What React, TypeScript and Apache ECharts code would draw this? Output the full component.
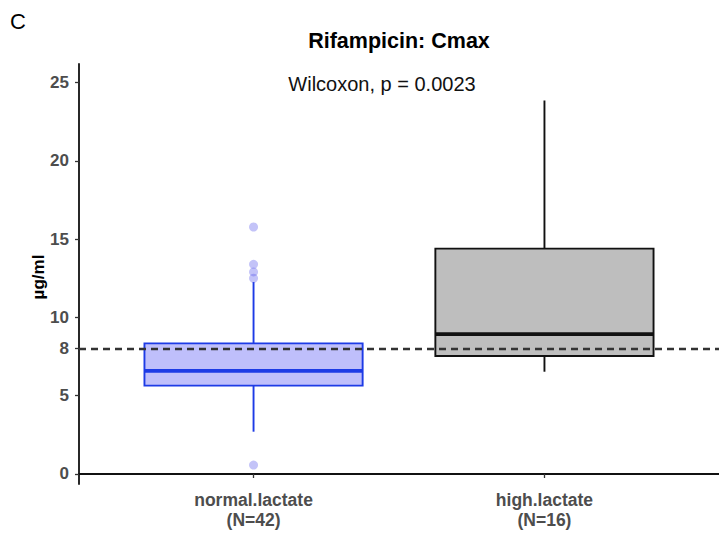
import React, { useEffect, useRef } from "react";
import * as echarts from "echarts";

// Groups and their five-number summaries (µg/ml)
const groups = ["normal.lactate", "high.lactate"];
const groupN = [42, 16];
const whiskerLow = [2.7, 6.53];
const quartile1 = [5.64, 7.53];
const medians = [6.59, 8.93];
const quartile3 = [8.34, 14.39];
const whiskerHigh = [12.26, 23.85];

// Outliers of the normal.lactate group
const outlierValues = [15.77, 13.39, 12.9, 12.5, 0.57];

// Reference threshold and y tick labels
const threshold = 8;
const yTicks = [0, 5, 8, 10, 15, 20, 25];

const FONT = "'Liberation Sans', Arial, Helvetica, sans-serif";
const BOX_WIDTH = 0.75;

const groupStyles = [
  { fill: "#bfbffb", stroke: "#1d3be6" },
  { fill: "#bebebe", stroke: "#111111" },
];

export default function App() {
  const ref = useRef<HTMLDivElement>(null);

  useEffect(() => {
    document.body.style.margin = "0";
    if (!ref.current) return;
    const chart = echarts.init(ref.current, undefined, { renderer: "svg" });

    const boxData = groups.map((_, i) => [
      i + 1,
      whiskerLow[i],
      quartile1[i],
      medians[i],
      quartile3[i],
      whiskerHigh[i],
    ]);

    chart.setOption({
      animation: false,
      backgroundColor: "#ffffff",
      grid: { left: 79, right: 0, top: 64, bottom: 58, containLabel: false },
      xAxis: {
        type: "value",
        min: 0.4,
        max: 2.6,
        splitLine: { show: false },
        axisLine: { show: true, lineStyle: { color: "#111", width: 1.8 } },
        axisTick: {
          show: true,
          customValues: [1, 2],
          length: 4,
          lineStyle: { color: "#333", width: 1.3 },
        },
        axisLabel: {
          customValues: [1, 2],
          formatter: (v: number) => {
            const i = Math.round(v) - 1;
            return `${groups[i]}\n(N=${groupN[i]})`;
          },
          color: "#4d4d4d",
          fontFamily: FONT,
          fontWeight: "bold",
          fontSize: 17.5,
          lineHeight: 20,
          margin: 6,
        },
      },
      yAxis: {
        type: "value",
        min: -0.64,
        max: 26.18,
        splitLine: { show: false },
        axisLine: { show: true, lineStyle: { color: "#111", width: 1.8 } },
        axisTick: {
          show: true,
          customValues: yTicks,
          length: 4,
          lineStyle: { color: "#333", width: 1.3 },
        },
        axisLabel: {
          customValues: yTicks,
          color: "#4d4d4d",
          fontFamily: FONT,
          fontWeight: "bold",
          fontSize: 17,
          margin: 10,
        },
      },
      graphic: [
        {
          type: "text",
          left: 10,
          top: 10,
          style: { text: "C", font: `22px ${FONT}`, fill: "#000" },
        },
        {
          type: "text",
          x: 399,
          y: 41,
          style: {
            text: "Rifampicin: Cmax",
            font: `bold 21.5px ${FONT}`,
            fill: "#000",
            align: "center",
            verticalAlign: "middle",
          },
        },
        {
          type: "text",
          x: 382,
          y: 84,
          style: {
            text: "Wilcoxon, p = 0.0023",
            font: `20px ${FONT}`,
            fill: "#111",
            align: "center",
            verticalAlign: "middle",
          },
        },
        {
          // y-axis title
          type: "text",
          x: 38,
          y: 277,
          rotation: Math.PI / 2,
          style: {
            text: "µg/ml",
            font: `bold 17px ${FONT}`,
            fill: "#000",
            align: "center",
            verticalAlign: "middle",
          },
        },
      ],
      series: [
        {
          type: "custom",
          z: 2,
          data: boxData,
          encode: { x: 0, y: [1, 2, 3, 4, 5] },
          renderItem: (params: any, api: any) => {
            const x = api.value(0);
            const st = groupStyles[params.dataIndex];
            const half = api.size([BOX_WIDTH, 0])[0] / 2;
            const cx = api.coord([x, 0])[0];
            const yLo = api.coord([x, api.value(1)])[1];
            const yQ1 = api.coord([x, api.value(2)])[1];
            const yMed = api.coord([x, api.value(3)])[1];
            const yQ3 = api.coord([x, api.value(4)])[1];
            const yHi = api.coord([x, api.value(5)])[1];
            return {
              type: "group",
              children: [
                {
                  type: "line",
                  shape: { x1: cx, y1: yHi, x2: cx, y2: yQ3 },
                  style: { stroke: st.stroke, lineWidth: 1.9 },
                },
                {
                  type: "line",
                  shape: { x1: cx, y1: yQ1, x2: cx, y2: yLo },
                  style: { stroke: st.stroke, lineWidth: 1.9 },
                },
                {
                  type: "rect",
                  shape: { x: cx - half, y: yQ3, width: half * 2, height: yQ1 - yQ3 },
                  style: { fill: st.fill, stroke: st.stroke, lineWidth: 1.9 },
                },
                {
                  type: "line",
                  shape: { x1: cx - half, y1: yMed, x2: cx + half, y2: yMed },
                  style: { stroke: st.stroke, lineWidth: 3.8 },
                },
              ],
            };
          },
        },
        {
          type: "scatter",
          z: 3,
          data: outlierValues.map((v) => [1, v]),
          symbol: "circle",
          symbolSize: 9,
          itemStyle: { color: "rgba(90, 90, 235, 0.45)" },
          markLine: {
            silent: true,
            symbol: "none",
            label: { show: false },
            lineStyle: { color: "#333", width: 2.3, type: [7, 5] },
            data: [{ yAxis: threshold }],
          },
        },
      ],
    });

    return () => chart.dispose();
  }, []);

  return <div ref={ref} style={{ width: 719, height: 542 }} />;
}
